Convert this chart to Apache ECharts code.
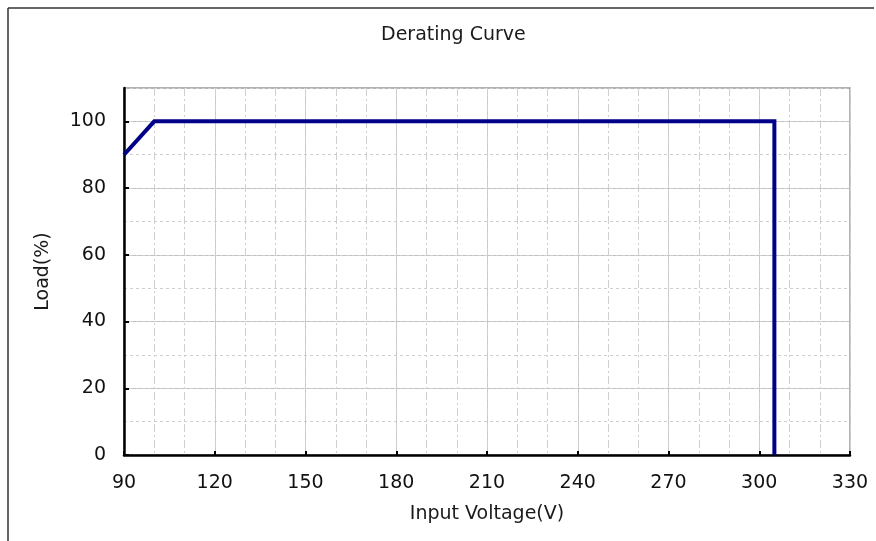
<!DOCTYPE html>
<html><head><meta charset="utf-8">
<script src="https://cdn.jsdelivr.net/npm/echarts@6/dist/echarts.min.js"></script>
<style>html,body{margin:0;padding:0;background:#fff}#c{width:876px;height:541px}</style>
</head><body><div id="c"></div>
<script>
var titleText = 'Derating Curve';
var xName = 'Input Voltage(V)';
var yName = 'Load(%)';
var voltage = [90, 100, 305, 305];
var load = [90, 100, 100, 0];
var xRange = [90, 330];
var yRange = [0, 110];
var yTickValues = [0, 20, 40, 60, 80, 100];

var chart = echarts.init(document.getElementById('c'));
var font = '"DejaVu Sans", Verdana, sans-serif';
var pts = voltage.map(function (v, i) { return [v, load[i]]; });
chart.setOption({
  backgroundColor: '#fff',
  animation: false,
  title: { text: titleText, left: 376, top: 21, textStyle: { fontFamily: font, fontSize: 19, fontWeight: 'normal', color: '#1a1a1a' } },
  graphic: [
    { type: 'line', shape: { x1: 8, y1: 8, x2: 874, y2: 8 }, style: { stroke: '#333', lineWidth: 1.5 } },
    { type: 'line', shape: { x1: 8, y1: 8, x2: 8, y2: 541 }, style: { stroke: '#333', lineWidth: 1.5 } }
  ],
  grid: { left: 124, right: 26, top: 88, bottom: 86, show: true, borderColor: '#9a9a9a', borderWidth: 1.5, backgroundColor: '#fff' },
  xAxis: [
    { type: 'value', min: xRange[0], max: xRange[1], interval: 30, position: 'bottom',
      name: xName, nameLocation: 'middle', nameGap: 50,
      nameTextStyle: { fontFamily: font, fontSize: 19, color: '#1a1a1a' },
      axisLine: { show: true, onZero: false, lineStyle: { color: '#000', width: 2.5 } },
      axisTick: { show: true, inside: true, length: 4, lineStyle: { color: '#000', width: 2 } },
      axisLabel: { fontFamily: font, fontSize: 19, color: '#111', margin: 19 },
      splitLine: { show: true, lineStyle: { color: '#c8c8c8', width: 1 } } },
    { type: 'value', min: xRange[0], max: xRange[1], interval: 10, position: 'top',
      axisLine: { show: false }, axisTick: { show: false }, axisLabel: { show: false },
      splitLine: { show: true, lineStyle: { color: '#cfcfcf', width: 1, type: [8, 3, 2, 3] } } }
  ],
  yAxis: [
    { type: 'value', min: yRange[0], max: yRange[1], interval: 20, position: 'left',
      name: yName, nameLocation: 'middle', nameGap: 71,
      nameTextStyle: { fontFamily: font, fontSize: 19, color: '#1a1a1a' },
      axisLine: { show: true, onZero: false, lineStyle: { color: '#000', width: 2.5 } },
      axisTick: { show: true, inside: true, length: 5, customValues: yTickValues, lineStyle: { color: '#000', width: 2 } },
      axisLabel: { fontFamily: font, fontSize: 19, color: '#111', margin: 18, customValues: yTickValues },
      splitLine: { show: true, lineStyle: { color: '#c0c0c0', width: 1 } } },
    { type: 'value', min: yRange[0], max: yRange[1], interval: 10, position: 'right',
      axisLine: { show: false }, axisTick: { show: false }, axisLabel: { show: false },
      splitLine: { show: true, lineStyle: { color: '#cfcfcf', width: 1, type: [3, 3] } } }
  ],
  series: [
    { type: 'line', data: pts, xAxisIndex: 0, yAxisIndex: 0, showSymbol: false, symbol: 'none',
      lineStyle: { color: '#000088', width: 4, join: 'miter' }, z: 10, clip: false }
  ]
});
</script></body></html>
